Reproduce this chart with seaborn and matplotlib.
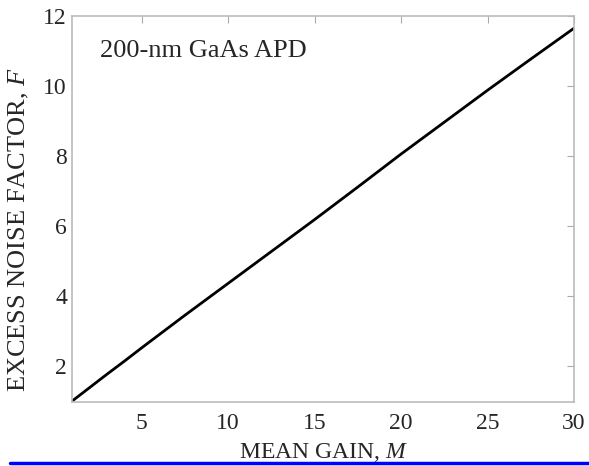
import seaborn as sns
import matplotlib.pyplot as plt
import pandas as pd
from matplotlib.lines import Line2D

# values
mean_gain = [1, 1.5, 2, 3, 4, 5, 7.5, 10, 12.5, 15, 17.5, 20, 22.5, 25, 27.5, 30]
noise_factor = [1.02, 1.21, 1.40, 1.78, 2.15, 2.53, 3.46, 4.37, 5.28, 6.19, 7.12,
                8.06, 8.97, 9.88, 10.77, 11.65]
x_ticks = [5, 10, 15, 20, 25, 30]
y_ticks = [2, 4, 6, 8, 10, 12]

df = pd.DataFrame({'M': mean_gain, 'F': noise_factor})

sns.set_style('white')
plt.rcParams['font.family'] = ['Liberation Serif', 'DejaVu Serif']
plt.rcParams['mathtext.fontset'] = 'custom'
plt.rcParams['mathtext.it'] = 'Liberation Serif:italic'
plt.rcParams['mathtext.rm'] = 'Liberation Serif'

fig = plt.figure(figsize=(5.89, 4.66), dpi=100)
ax = fig.add_axes([0.123, 0.1384, 0.8515, 0.8273])

sns.lineplot(x='M', y='F', data=df, color='black', linewidth=2, ax=ax)

ax.set_xlim(1, 30)
ax.set_ylim(1, 12)
ax.set_xticks(x_ticks)
ax.set_yticks(y_ticks)
ax.tick_params(direction='in', length=5, width=0.8, color='#aaaaaa',
               top=True, right=True, labelsize=17)
ax.tick_params(axis='x', pad=8)
ax.tick_params(axis='y', pad=4)
for s in ax.spines.values():
    s.set_color('#bbbbbb')
    s.set_linewidth(1.2)

ax.set_xlabel(r'MEAN GAIN, $M$', fontsize=17, labelpad=5)
ax.set_ylabel(r'EXCESS NOISE FACTOR, $F$', fontsize=19)
ax.yaxis.set_label_coords(-0.082, 0.445)
ax.text(0.055, 0.91, '200-nm GaAs APD', transform=ax.transAxes,
        fontsize=19, ha='left', va='center')

# blue rule under the figure
fig.add_artist(Line2D([10 / 589, 1], [3 / 466, 3 / 466], color='#0000ff', linewidth=2.5))

plt.savefig('out.png', dpi=100)
